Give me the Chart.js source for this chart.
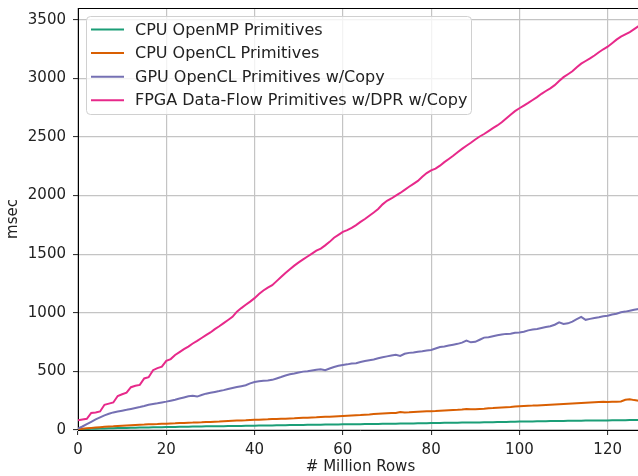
<!DOCTYPE html>
<html>
<head>
<meta charset="utf-8">
<script src="https://cdn.jsdelivr.net/npm/chart.js@4/dist/chart.umd.min.js"></script>
<style>
  html, body { margin: 0; padding: 0; background: #fff; overflow: hidden; }
  #c { position: absolute; left: 0; top: 0; }
</style>
</head>
<body>
<canvas id="c" width="650" height="476"></canvas>
<script>
const millionRows = [0,1,2,3,4,5,6,7,8,9,10,11,12,13,14,15,16,17,18,19,20,21,22,23,24,25,26,27,28,29,30,31,32,33,34,35,36,37,38,39,40,41,42,43,44,45,46,47,48,49,50,51,52,53,54,55,56,57,58,59,60,61,62,63,64,65,66,67,68,69,70,71,72,73,74,75,76,77,78,79,80,81,82,83,84,85,86,87,88,89,90,91,92,93,94,95,96,97,98,99,100,101,102,103,104,105,106,107,108,109,110,111,112,113,114,115,116,117,118,119,120,121,122,123,124,125,126,127];

const cpuOpenMP = [3,6,8,10,11,12,13,14,15,16,17,18,19,20,21,21,22,23,24,24,25,26,26,27,28,28,29,29,30,31,31,32,32,33,34,34,35,35,36,36,37,38,38,39,39,40,41,41,42,42,43,43,44,44,45,45,46,46,47,47,48,49,49,50,50,51,51,52,52,53,53,54,54,55,55,56,56,57,57,58,59,59,60,61,61,62,62,63,64,64,65,65,66,67,67,68,69,69,70,71,72,72,73,73,74,75,75,76,76,77,77,78,78,79,79,80,80,81,81,82,82,83,83,84,84,85,85,86];

const cpuOpenCL = [5,10,14,18,21,24,27,30,32,35,37,39,41,43,45,46,48,50,51,53,54,56,57,59,60,62,63,65,66,68,69,71,72,74,76,78,80,82,83,85,87,88,90,91,93,94,96,97,99,100,102,104,105,107,108,110,112,114,116,118,120,122,124,126,128,131,133,136,138,140,142,144,146,153,150,151,153,155,157,159,161,162,164,166,168,170,172,175,180,176,178,180,182,185,187,190,192,194,196,200,203,205,207,208,210,212,214,216,218,220,222,224,226,228,230,232,234,236,238,240,238,240,242,244,258,262,255,250];

const gpuOpenCL = [12,30,50,70,90,108,125,138,150,158,165,172,180,188,196,205,215,222,228,235,242,250,258,268,278,288,292,285,298,310,318,325,332,340,350,358,366,374,382,398,410,415,420,422,428,440,452,465,475,482,490,498,502,508,513,518,510,525,538,548,555,560,568,570,580,588,595,602,612,620,628,636,642,632,650,658,662,668,672,678,682,695,708,712,720,728,735,745,762,748,752,770,788,792,800,808,815,820,822,830,832,838,850,858,862,870,878,885,898,918,905,910,925,945,965,940,948,955,962,970,975,985,992,1005,1010,1018,1025,1032];

const fpgaDataFlow = [82,90,95,145,150,158,215,225,235,290,305,318,365,378,385,440,450,510,528,540,590,605,640,665,690,712,738,760,785,810,832,860,885,912,938,965,1010,1040,1068,1095,1125,1160,1190,1215,1235,1270,1305,1340,1372,1402,1430,1455,1480,1505,1530,1548,1575,1605,1640,1665,1690,1705,1725,1748,1775,1800,1828,1855,1885,1925,1955,1975,2000,2022,2048,2075,2100,2125,2160,2192,2215,2230,2255,2285,2312,2340,2370,2398,2425,2450,2478,2504,2525,2550,2575,2598,2625,2658,2690,2720,2745,2768,2790,2815,2840,2868,2892,2915,2942,2978,3010,3035,3060,3095,3125,3148,3170,3195,3222,3248,3270,3300,3330,3355,3375,3395,3420,3445];

const seriesLabels = ['CPU OpenMP Primitives', 'CPU OpenCL Primitives', 'GPU OpenCL Primitives w/Copy', 'FPGA Data-Flow Primitives w/DPR w/Copy'];
const seriesColors = ['#1b9e77', '#d95f02', '#7570b3', '#e7298a'];
const seriesValues = [cpuOpenMP, cpuOpenCL, gpuOpenCL, fpgaDataFlow];
const xTicks = [0, 20, 40, 60, 80, 100, 120];
const yTicks = [0, 500, 1000, 1500, 2000, 2500, 3000, 3500];

const FONT = 'DejaVu Sans';
const TEXT = '#222222';

const boxPlugin = {
  id: 'boxAndLegend',
  afterDatasetsDraw(chart) {
    const ctx = chart.ctx;
    const a = chart.chartArea;
    ctx.save();
    ctx.strokeStyle = '#000';
    ctx.lineWidth = 1;
    ctx.beginPath();
    ctx.moveTo(Math.round(a.left) + 0.5, Math.round(a.top) + 0.5);
    ctx.lineTo(Math.round(a.right) + 0.5, Math.round(a.top) + 0.5);
    ctx.lineTo(Math.round(a.right) + 0.5, Math.round(a.bottom) + 0.5);
    ctx.stroke();

    // legend
    const lx = 86.5, ly = 16.5, lw = 385, lh = 98, r = 4;
    ctx.beginPath();
    ctx.moveTo(lx + r, ly);
    ctx.lineTo(lx + lw - r, ly);
    ctx.quadraticCurveTo(lx + lw, ly, lx + lw, ly + r);
    ctx.lineTo(lx + lw, ly + lh - r);
    ctx.quadraticCurveTo(lx + lw, ly + lh, lx + lw - r, ly + lh);
    ctx.lineTo(lx + r, ly + lh);
    ctx.quadraticCurveTo(lx, ly + lh, lx, ly + lh - r);
    ctx.lineTo(lx, ly + r);
    ctx.quadraticCurveTo(lx, ly, lx + r, ly);
    ctx.closePath();
    ctx.fillStyle = 'rgba(255,255,255,0.8)';
    ctx.fill();
    ctx.strokeStyle = '#d0d0d0';
    ctx.stroke();

    ctx.font = '16px "' + FONT + '"';
    ctx.textBaseline = 'middle';
    ctx.textAlign = 'left';
    seriesLabels.forEach((lab, i) => {
      const y = 29.5 + i * 23.6;
      ctx.strokeStyle = seriesColors[i];
      ctx.lineWidth = 2;
      ctx.beginPath();
      ctx.moveTo(91, y);
      ctx.lineTo(124, y);
      ctx.stroke();
      ctx.fillStyle = TEXT;
      ctx.fillText(lab, 135, y + 1);
    });
    ctx.restore();
  }
};

const datasets = seriesValues.map((vals, i) => ({
  label: seriesLabels[i],
  data: millionRows.map((x, j) => ({ x: x, y: vals[j] })),
  borderColor: seriesColors[i],
  backgroundColor: seriesColors[i],
  borderWidth: 2,
  pointRadius: 0,
  tension: 0,
  fill: false,
  order: 3 - i
}));

new Chart(document.getElementById('c'), {
  type: 'line',
  data: { datasets: datasets },
  plugins: [boxPlugin],
  options: {
    responsive: false,
    animation: false,
    devicePixelRatio: 1,
    layout: { padding: { top: 8, right: 7, left: 0, bottom: 0 } },
    plugins: { legend: { display: false }, tooltip: { enabled: false } },
    scales: {
      x: {
        type: 'linear',
        min: 0,
        max: 128,
        afterFit(scale) { scale.height = 46; scale.paddingLeft = 0; scale.paddingRight = 0; },
        afterBuildTicks(scale) { scale.ticks = xTicks.map(v => ({ value: v })); },
        ticks: { stepSize: 20, includeBounds: false, padding: 6, color: TEXT, font: { family: FONT, size: 15 }, callback: v => String(v) },
        grid: { color: '#c4c4c4', lineWidth: 1.2, tickLength: 5, tickColor: '#222', tickWidth: 1 },
        border: { color: '#000', width: 1 },
        title: { display: true, text: '# Million Rows', color: TEXT, font: { family: FONT, size: 15 }, padding: { top: 0, bottom: 0 } }
      },
      y: {
        type: 'linear',
        min: 0,
        max: 3600,
        afterFit(scale) { scale.width = 78; scale.paddingTop = 0; scale.paddingBottom = 0; },
        afterBuildTicks(scale) { scale.ticks = yTicks.map(v => ({ value: v })); },
        ticks: { stepSize: 500, includeBounds: false, padding: 7, color: TEXT, font: { family: FONT, size: 15 }, callback: v => String(v) },
        grid: { color: '#c4c4c4', lineWidth: 1.2, tickLength: 5, tickColor: '#222', tickWidth: 1 },
        border: { color: '#000', width: 1 },
        title: { display: true, text: 'msec', color: TEXT, font: { family: FONT, size: 15 }, padding: { top: 4, bottom: 0 } }
      }
    }
  }
});
</script>
</body>
</html>
